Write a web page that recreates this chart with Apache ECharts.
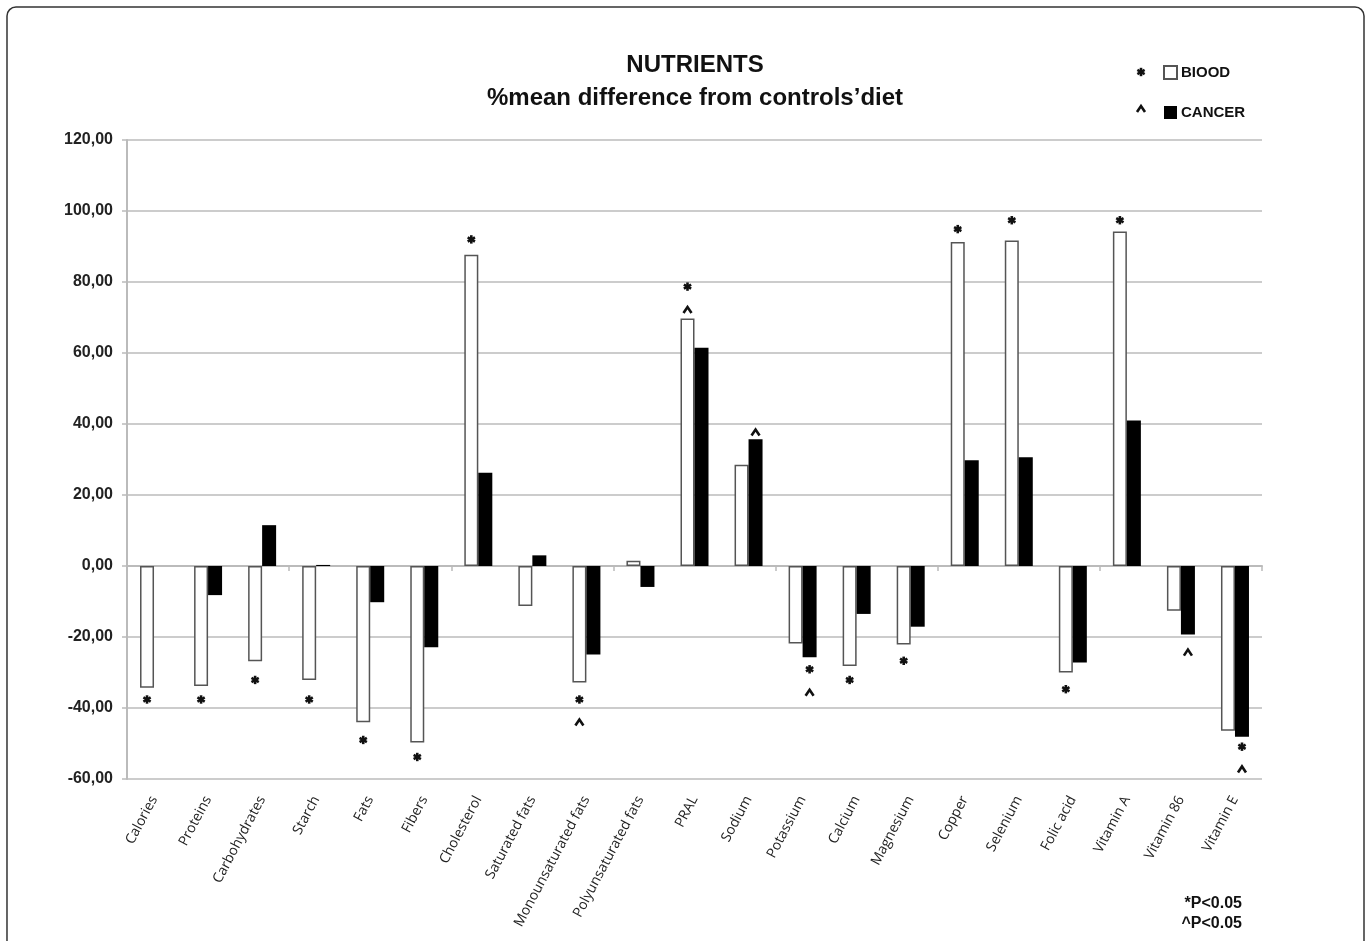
<!DOCTYPE html>
<html>
<head>
<meta charset="utf-8">
<script src="https://cdn.jsdelivr.net/npm/echarts@6/dist/echarts.min.js"></script>
<style>
  html, body { margin: 0; padding: 0; background: #fff; }
  #chart { width: 1371px; height: 941px; }
</style>
</head>
<body>
<div id="chart"></div>
<script>
// categories and values
var categories = ['Calories', 'Proteins', 'Carbohydrates', 'Starch', 'Fats', 'Fibers', 'Cholesterol',
    'Saturated fats', 'Monounsaturated fats', 'Polyunsaturated fats', 'PRAL', 'Sodium', 'Potassium',
    'Calcium', 'Magnesium', 'Copper', 'Selenium', 'Folic acid', 'Vitamin A', 'Vitamin 86', 'Vitamin E'];

var bioodValues = [-34.3, -33.8, -26.8, -32.1, -44.0, -49.7, 87.7, -11.3, -32.8, 1.5, 69.7,
    28.5, -21.8, -28.2, -22.1, 91.3, 91.7, -30.0, 94.2, -12.6, -46.4];

var cancerValues = [0, -8.2, 11.5, 0.3, -10.2, -22.9, 26.3, 3.0, -24.9, -5.9, 61.5,
    35.7, -25.7, -13.5, -17.1, 29.8, 30.6, -27.2, 41.0, -19.3, -48.1];

var yTicks = [-60, -40, -20, 0, 20, 40, 60, 80, 100, 120];

// significance marks: [category index, value where drawn, bar (0 = BIOOD, 1 = CANCER)]
var starMarks = [
    [0, -37.6, 0], [1, -37.6, 0], [2, -32.1, 0], [3, -37.6, 0], [4, -49.0, 0], [5, -53.8, 0],
    [6, 92.0, 0], [8, -37.6, 0], [10, 78.7, 0], [12, -29.1, 1], [13, -32.1, 0], [14, -26.7, 0],
    [15, 94.9, 0], [16, 97.4, 0], [17, -34.7, 0], [18, 97.4, 0], [20, -50.9, 1]
];
var caretMarks = [
    [8, -44.1, 0], [10, 72.1, 0], [11, 37.6, 1], [12, -35.7, 1], [19, -24.4, 1], [20, -57.3, 1]
];

var BAR_W = 14;
var FONT = '"Liberation Sans", Arial, sans-serif';

function starShape(x, y) {
    var r = 4.2, lines = [];
    for (var i = 0; i < 3; i++) {
        var a = Math.PI / 2 + i * Math.PI / 3;
        lines.push({
            type: 'line',
            shape: { x1: x - r * Math.cos(a), y1: y - r * Math.sin(a), x2: x + r * Math.cos(a), y2: y + r * Math.sin(a) },
            style: { stroke: '#111', lineWidth: 2.6 }
        });
    }
    return { type: 'group', children: lines };
}

function caretShape(x, y) {
    return {
        type: 'polyline',
        shape: { points: [[x - 4, y + 3], [x, y - 3], [x + 4, y + 3]] },
        style: { stroke: '#111', lineWidth: 2.6, fill: null }
    };
}

var markData = starMarks.map(function (m) { return [m[0], m[1], m[2], 0]; })
    .concat(caretMarks.map(function (m) { return [m[0], m[1], m[2], 1]; }));

var chart = echarts.init(document.getElementById('chart'));

chart.setOption({
    backgroundColor: '#fff',
    animation: false,
    title: {
        text: 'NUTRIENTS\n%mean difference from controls\u2019diet',
        left: 690,
        top: 44,
        textAlign: 'center',
        textStyle: { fontFamily: FONT, fontWeight: 'bold', fontSize: 24, lineHeight: 33, color: '#111' }
    },
    legend: {
        data: ['BIOOD', 'CANCER'],
        orient: 'vertical',
        left: 1158,
        top: 60,
        itemWidth: 13,
        itemHeight: 13,
        itemGap: 25,
        icon: 'rect',
        textStyle: { fontFamily: FONT, fontWeight: 'bold', fontSize: 15, color: '#111', padding: [0, 0, 0, -1] }
    },
    grid: { left: 127, right: 109, top: 140, bottom: 162 },
    xAxis: [{
        type: 'category',
        data: categories,
        axisLine: { onZero: true, lineStyle: { color: '#bbb', width: 2 } },
        axisTick: { show: true, length: 5, lineStyle: { color: '#bbb', width: 1.5 } },
        axisLabel: { show: false },
        splitLine: { show: false }
    }, {
        type: 'category',
        data: categories,
        position: 'bottom',
        axisLine: { show: false },
        axisTick: { show: false },
        axisLabel: {
            interval: 0,
            rotate: 62,
            margin: 18,
            fontFamily: '"Open Sans", sans-serif',
            fontSize: 14,
            color: '#222'
        }
    }],
    yAxis: {
        type: 'value',
        min: yTicks[0],
        max: yTicks[yTicks.length - 1],
        interval: 20,
        axisLine: { show: true, lineStyle: { color: '#bbb', width: 2 } },
        axisTick: { show: true, length: 5, lineStyle: { color: '#bbb', width: 1.5 } },
        splitLine: { lineStyle: { color: '#bbb', width: 1.5 } },
        axisLabel: {
            margin: 14,
            fontFamily: FONT,
            fontWeight: 'bold',
            fontSize: 16,
            color: '#222',
            formatter: function (v) { return v.toFixed(2).replace('.', ','); }
        }
    },
    series: [{
        name: 'BIOOD',
        type: 'bar',
        data: bioodValues,
        barWidth: BAR_W,
        barGap: '0%',
        itemStyle: { color: '#fff', borderColor: '#555', borderWidth: 1.5 }
    }, {
        name: 'CANCER',
        type: 'bar',
        data: cancerValues,
        barWidth: BAR_W,
        barGap: '0%',
        itemStyle: { color: '#000' }
    }, {
        name: 'marks',
        type: 'custom',
        data: markData,
        clip: false,
        z: 5,
        renderItem: function (params, api) {
            var p = api.coord([api.value(0), api.value(1)]);
            var x = p[0] + (api.value(2) === 0 ? -BAR_W / 2 : BAR_W / 2);
            return api.value(3) === 0 ? starShape(x, p[1]) : caretShape(x, p[1]);
        }
    }],
    graphic: [
        {
            type: 'rect',
            shape: { x: 7, y: 7, width: 1357, height: 950, r: 9 },
            style: { fill: null, stroke: '#333', lineWidth: 1.5 },
            silent: true
        },
        starShape(1141, 72),
        caretShape(1141, 109),
        {
            type: 'text',
            right: 129,
            top: 896,
            style: { text: '*P<0.05', font: 'bold 16px ' + FONT, fill: '#111' }
        },
        {
            type: 'text',
            right: 129,
            top: 916,
            style: { text: '^P<0.05', font: 'bold 16px ' + FONT, fill: '#111' }
        }
    ]
});
</script>
</body>
</html>
